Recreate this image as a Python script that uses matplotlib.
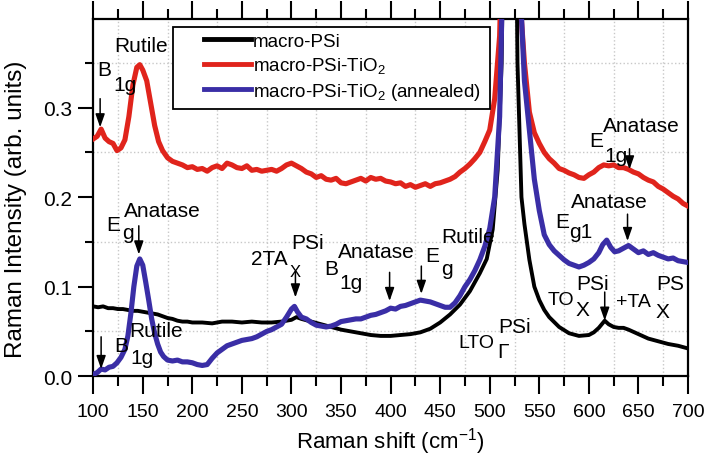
import numpy as np
import matplotlib
matplotlib.use('Agg')
import matplotlib.pyplot as plt
from matplotlib.ticker import MultipleLocator
from matplotlib.patches import Rectangle

plt.rcParams['font.family'] = ['Liberation Sans', 'DejaVu Sans']
plt.rcParams['mathtext.fontset'] = 'custom'
plt.rcParams['mathtext.rm'] = 'Liberation Sans'
plt.rcParams['mathtext.default'] = 'regular'

# macro-PSi
x_psi = [100, 105, 110, 115, 120, 125, 130, 135, 140, 145, 150, 155, 160, 165, 170, 175, 180, 185, 190,
         195, 200, 210, 220, 230, 240, 250, 260, 270, 280, 290, 300, 305, 310, 320, 330, 340, 350, 360,
         370, 380, 390, 400, 410, 420, 430, 440, 450, 460, 470, 480, 490, 497, 503, 508, 512, 516, 520,
         524, 528, 532, 535, 540, 545, 550, 555, 560, 570, 580, 590, 600, 605, 610, 616, 620, 625, 630,
         635, 640, 650, 660, 670, 680, 690, 700]
y_psi = [0.078, 0.077, 0.078, 0.076, 0.076, 0.075, 0.075, 0.074, 0.073, 0.073, 0.072, 0.071, 0.070,
         0.069, 0.067, 0.065, 0.064, 0.062, 0.061, 0.061, 0.060, 0.060, 0.059, 0.061, 0.061, 0.060,
         0.061, 0.060, 0.060, 0.061, 0.063, 0.066, 0.064, 0.061, 0.058, 0.055, 0.052, 0.050, 0.048,
         0.046, 0.045, 0.045, 0.046, 0.047, 0.049, 0.053, 0.060, 0.069, 0.080, 0.095, 0.115, 0.131,
         0.164, 0.23, 0.35, 0.7, 1.5, 0.8, 0.35, 0.2, 0.17, 0.13, 0.10, 0.085, 0.074, 0.066, 0.055,
         0.048, 0.045, 0.046, 0.049, 0.054, 0.062, 0.058, 0.055, 0.054, 0.054, 0.052, 0.047, 0.042,
         0.039, 0.036, 0.034, 0.031]

# macro-PSi-TiO2
x_tio2 = [100, 104, 108, 112, 116, 120, 124, 128, 132, 136, 140, 144, 147, 150, 154, 158, 162, 166, 170,
          175, 180, 185, 190, 195, 200, 205, 210, 215, 220, 225, 230, 235, 240, 245, 250, 255, 260, 265,
          270, 275, 280, 285, 290, 295, 300, 305, 310, 315, 320, 325, 330, 335, 340, 345, 350, 355, 360,
          365, 370, 375, 380, 385, 390, 395, 400, 405, 410, 415, 420, 425, 430, 435, 440, 445, 450, 455,
          460, 465, 470, 475, 480, 485, 490, 495, 500, 505, 510, 515, 520, 525, 530, 535, 540, 545, 550,
          555, 560, 565, 570, 575, 580, 585, 590, 595, 600, 605, 610, 615, 620, 625, 630, 635, 640, 645,
          650, 655, 660, 665, 670, 675, 680, 685, 690, 695, 700]
y_tio2 = [0.265, 0.268, 0.276, 0.266, 0.262, 0.260, 0.252, 0.255, 0.264, 0.290, 0.325, 0.345, 0.348,
          0.342, 0.330, 0.305, 0.280, 0.262, 0.252, 0.244, 0.240, 0.238, 0.236, 0.233, 0.234, 0.231,
          0.232, 0.229, 0.233, 0.235, 0.232, 0.238, 0.236, 0.233, 0.232, 0.235, 0.230, 0.231, 0.229,
          0.230, 0.231, 0.229, 0.232, 0.236, 0.238, 0.235, 0.232, 0.228, 0.226, 0.222, 0.224, 0.220,
          0.219, 0.221, 0.216, 0.215, 0.217, 0.219, 0.221, 0.218, 0.222, 0.220, 0.221, 0.218, 0.217,
          0.215, 0.216, 0.212, 0.214, 0.211, 0.213, 0.215, 0.212, 0.215, 0.216, 0.218, 0.220, 0.223,
          0.228, 0.232, 0.237, 0.243, 0.250, 0.262, 0.275, 0.310, 0.380, 0.60, 1.5, 0.9, 0.43, 0.35,
          0.295, 0.272, 0.260, 0.250, 0.243, 0.238, 0.232, 0.230, 0.227, 0.225, 0.222, 0.221, 0.225,
          0.228, 0.233, 0.236, 0.235, 0.236, 0.233, 0.233, 0.231, 0.228, 0.226, 0.222, 0.219, 0.217,
          0.212, 0.209, 0.205, 0.201, 0.198, 0.193, 0.190]

# macro-PSi-TiO2 (annealed)
x_ann = [100, 104, 108, 112, 116, 120, 124, 128, 132, 135, 138, 141, 144, 147, 150, 153, 156, 159, 162,
         165, 168, 171, 175, 180, 185, 190, 195, 200, 205, 210, 215, 220, 225, 230, 235, 240, 245, 250,
         255, 260, 265, 270, 275, 280, 285, 290, 295, 300, 303, 306, 310, 315, 320, 325, 330, 335, 340,
         345, 350, 355, 360, 365, 370, 375, 380, 385, 390, 395, 400, 405, 410, 415, 420, 425, 430, 435,
         440, 445, 450, 455, 460, 465, 470, 475, 480, 485, 490, 495, 500, 505, 510, 515, 520, 525, 530,
         535, 540, 545, 550, 555, 560, 565, 570, 575, 580, 585, 590, 595, 600, 605, 610, 614, 618, 622,
         626, 630, 635, 640, 645, 650, 655, 660, 665, 670, 675, 680, 685, 690, 695, 700]
y_ann = [0.002, 0.004, 0.008, 0.007, 0.010, 0.011, 0.015, 0.021, 0.030, 0.045, 0.070, 0.100, 0.123,
         0.131, 0.124, 0.105, 0.085, 0.064, 0.048, 0.036, 0.027, 0.022, 0.018, 0.017, 0.018, 0.016,
         0.016, 0.015, 0.013, 0.012, 0.013, 0.020, 0.026, 0.030, 0.034, 0.036, 0.038, 0.040, 0.041,
         0.042, 0.044, 0.047, 0.050, 0.052, 0.055, 0.058, 0.066, 0.075, 0.078, 0.072, 0.066, 0.064,
         0.060, 0.057, 0.056, 0.055, 0.056, 0.058, 0.061, 0.062, 0.063, 0.064, 0.064, 0.066, 0.068,
         0.069, 0.071, 0.073, 0.076, 0.075, 0.078, 0.079, 0.081, 0.083, 0.085, 0.084, 0.083, 0.081,
         0.079, 0.077, 0.077, 0.082, 0.090, 0.100, 0.108, 0.118, 0.130, 0.145, 0.165, 0.200, 0.290,
         0.55, 1.5, 0.9, 0.45, 0.33, 0.275, 0.22, 0.185, 0.158, 0.147, 0.140, 0.135, 0.130, 0.126,
         0.124, 0.122, 0.124, 0.127, 0.131, 0.138, 0.147, 0.152, 0.144, 0.139, 0.140, 0.143, 0.146,
         0.142, 0.138, 0.140, 0.136, 0.138, 0.135, 0.133, 0.131, 0.132, 0.129, 0.128, 0.127]

fig = plt.figure(figsize=(7.06, 4.6), dpi=100)
ax = fig.add_axes([0.132, 0.180, 0.8425, 0.7765])

ax.plot(x_psi, y_psi, color='black', lw=2.8, label='macro-PSi', zorder=3)
ax.plot(x_tio2, y_tio2, color='#e0241c', lw=3.7, label='macro-PSi-TiO$_2$', zorder=3)
ax.plot(x_ann, y_ann, color='#3a2ea6', lw=3.7, label='macro-PSi-TiO$_2$ (annealed)', zorder=4)

ax.set_xlim(100, 700)
ax.set_ylim(0, 0.399)
ax.xaxis.set_major_locator(MultipleLocator(50))
ax.xaxis.set_minor_locator(MultipleLocator(25))
ax.set_yticks([0.0, 0.1, 0.2, 0.3])
ax.set_yticklabels(['0.0', '0.1', '0.2', '0.3'])
ax.yaxis.set_minor_locator(MultipleLocator(0.05))
ax.grid(which='minor', color='#c8c8c8', linestyle=':', lw=1.0)
ax.grid(which='major', visible=False)

ax.tick_params(axis='x', which='both', direction='out', top=True, bottom=True, labelsize=14, pad=6, width=1.5)
ax.tick_params(axis='x', which='major', length=13)
ax.tick_params(axis='x', which='minor', length=7)
ax.tick_params(axis='y', which='both', direction='out', left=True, right=False, labelsize=15, pad=4, width=1.5)
ax.tick_params(axis='y', which='major', length=11)
ax.tick_params(axis='y', which='minor', length=6)
for s in ax.spines.values():
    s.set_linewidth(1.6)

ax.set_xlabel('Raman shift (cm$^{-1}$)', fontsize=16, labelpad=4)
ax.set_ylabel('Raman Intensity (arb. units)', fontsize=17.5)
ax.yaxis.set_label_coords(-0.112, 0.47)

# legend frame drawn separately so it keeps the wide left margin of the original
ax.add_patch(Rectangle((0.1345, 0.748), 0.533, 0.2296, transform=ax.transAxes,
                       facecolor='white', edgecolor='black', lw=1.3, zorder=5))
leg = ax.legend(loc='upper left', bbox_to_anchor=(0.186, 0.962), borderaxespad=0, borderpad=0,
                fontsize=13.5, handlelength=2.5, handletextpad=0.1, labelspacing=0.3, frameon=False)
leg.set_zorder(6)
for h in leg.get_lines():
    h.set_linewidth(3.5)

# peak labels (text, x, y, size)
labels = [
    ('Rutile', 148, 0.369, 15), ('B', 111, 0.343, 15), ('1g', 132, 0.326, 15),
    ('Anatase', 170, 0.185, 15), ('E', 120, 0.170, 15), ('g', 135, 0.160, 15),
    ('Rutile', 163.5, 0.051, 15), ('B', 128, 0.034, 15), ('1g', 149, 0.021, 15),
    ('2TA', 278, 0.132, 15), ('PSi', 316, 0.149, 15), ('X', 304, 0.117, 12),
    ('B', 340, 0.120, 15), ('1g', 360, 0.105, 15), ('Anatase', 386, 0.139, 15),
    ('E', 442, 0.135, 15), ('g', 457, 0.120, 15), ('Rutile', 478, 0.156, 15),
    ('LTO', 487, 0.038, 14), ('PSi', 525, 0.056, 15), ('Γ', 513, 0.028, 15),
    ('Anatase', 653, 0.280, 15), ('E', 607, 0.263, 15), ('1g', 627, 0.246, 15),
    ('Anatase', 621, 0.195, 15), ('E', 573, 0.173, 15), ('g1', 592, 0.162, 15),
    ('TO', 572, 0.086, 14), ('X', 594, 0.074, 15), ('PSi', 604, 0.103, 15),
    ('+TA', 645, 0.084, 14), ('X', 674, 0.072, 15), ('PS', 682, 0.103, 15),
]
for t, lx, ly, fs in labels:
    ax.text(lx, ly, t, fontsize=fs, ha='center', va='center', zorder=7)

# arrows (x, from y, to y)
arrows = [(107, 0.310, 0.278), (146, 0.168, 0.136), (108, 0.044, 0.008),
          (304, 0.117, 0.088), (399, 0.116, 0.084), (431, 0.123, 0.092),
          (641, 0.254, 0.231), (639, 0.181, 0.151), (616, 0.094, 0.062)]
for ax_x, y0, y1 in arrows:
    ax.annotate('', xy=(ax_x, y1), xytext=(ax_x, y0),
                arrowprops=dict(arrowstyle='-|>,head_length=0.8,head_width=0.28',
                                color='black', lw=1.1, shrinkA=0, shrinkB=0), zorder=7)

fig.savefig('out.png', dpi=100)
